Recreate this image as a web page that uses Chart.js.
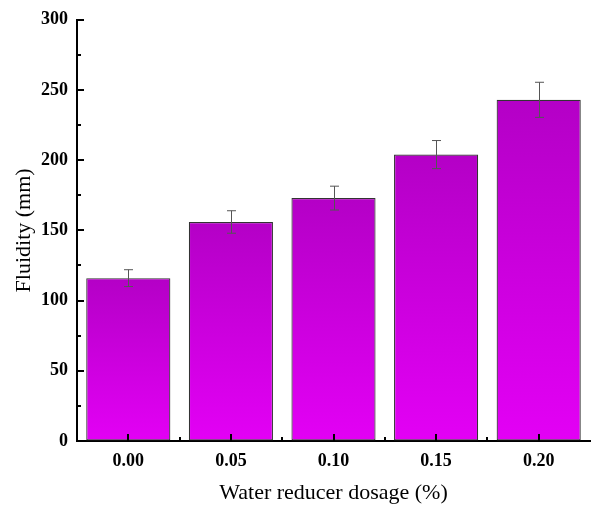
<!DOCTYPE html>
<html>
<head>
<meta charset="utf-8">
<script src="https://cdn.jsdelivr.net/npm/chart.js@4.4.0/dist/chart.umd.min.js"></script>
<style>
  html, body { margin: 0; padding: 0; background: #ffffff; }
  #wrap { width: 592px; height: 506px; position: relative; }
</style>
</head>
<body>
<div id="wrap"><canvas id="c"></canvas></div>
<script>
// Fluidity versus water reducer dosage
const dosageLabels = ['0.00', '0.05', '0.10', '0.15', '0.20'];
const fluidity = [116, 156, 173, 204, 243];
const fluidityError = [6, 8, 8.5, 10, 12.5];
const yTicks = [0, 50, 100, 150, 200, 250, 300];

const FONT = '"Liberation Serif", "Times New Roman", serif';
const TOP_COLOR = '#b400c6';
const BOTTOM_COLOR = '#e300f5';

// Vertical gradient for each bar, from its top down to the baseline
function barGradient(context) {
  const chart = context.chart;
  const { ctx, chartArea, scales } = chart;
  if (!chartArea) return BOTTOM_COLOR;
  const v = context.raw;
  const yTop = scales.y.getPixelForValue(v);
  const yBot = scales.y.getPixelForValue(0);
  const g = ctx.createLinearGradient(0, yTop, 0, yBot);
  g.addColorStop(0, TOP_COLOR);
  g.addColorStop(1, BOTTOM_COLOR);
  return g;
}

// Error bars and inward-pointing tick marks
const decorations = {
  id: 'decorations',
  afterDatasetsDraw(chart) {
    const { ctx, scales } = chart;
    const meta = chart.getDatasetMeta(0);
    ctx.save();
    ctx.strokeStyle = '#555555';
    ctx.lineWidth = 1;
    meta.data.forEach((bar, i) => {
      const x = Math.round(bar.x) + 0.5;
      const yHi = scales.y.getPixelForValue(fluidity[i] + fluidityError[i]);
      const yLo = scales.y.getPixelForValue(fluidity[i] - fluidityError[i]);
      const cap = 4.5;
      ctx.beginPath();
      ctx.moveTo(x, yHi); ctx.lineTo(x, yLo);
      ctx.moveTo(x - cap, yHi); ctx.lineTo(x + cap, yHi);
      ctx.moveTo(x - cap, yLo); ctx.lineTo(x + cap, yLo);
      ctx.stroke();
    });
    ctx.restore();
  },
  afterDraw(chart) {
    const { ctx, scales, chartArea } = chart;
    const y = scales.y, x = scales.x;
    ctx.save();
    ctx.strokeStyle = '#000000';
    ctx.lineWidth = 2;
    // y-axis major and minor ticks
    for (let v = 0; v <= 300; v += 25) {
      const py = Math.round(y.getPixelForValue(v));
      const len = v % 50 === 0 ? 7 : 4;
      ctx.beginPath();
      ctx.moveTo(chartArea.left, py);
      ctx.lineTo(chartArea.left + len, py);
      ctx.stroke();
    }
    // x-axis major ticks at categories, minor ticks between them
    const n = dosageLabels.length;
    for (let i = 0; i < n; i++) {
      const px = Math.round(x.getPixelForValue(i));
      ctx.beginPath();
      ctx.moveTo(px, chartArea.bottom);
      ctx.lineTo(px, chartArea.bottom - 7);
      ctx.stroke();
    }
    for (let i = 0; i < n - 1; i++) {
      const px = Math.round(x.getPixelForValue(i + 0.5));
      ctx.beginPath();
      ctx.moveTo(px, chartArea.bottom);
      ctx.lineTo(px, chartArea.bottom - 4);
      ctx.stroke();
    }
    ctx.restore();
  }
};

new Chart(document.getElementById('c'), {
  type: 'bar',
  data: {
    labels: dosageLabels,
    datasets: [{
      data: fluidity,
      backgroundColor: barGradient,
      borderColor: '#333333',
      borderWidth: 1.2,
      borderSkipped: false,
      barPercentage: 0.82,
      categoryPercentage: 1.0
    }]
  },
  options: {
    responsive: true,
    maintainAspectRatio: false,
    animation: false,
    layout: { padding: { left: 0, right: 2, top: 19, bottom: 0 } },
    plugins: { legend: { display: false }, tooltip: { enabled: false } },
    scales: {
      x: {
        grid: { display: true, drawOnChartArea: false, drawTicks: false },
        border: { display: true, color: '#000000', width: 2 },
        ticks: {
          color: '#000000',
          padding: 10,
          font: { family: FONT, size: 18, weight: 'bold' }
        },
        title: {
          display: true,
          text: 'Water reducer dosage (%)',
          color: '#000000',
          font: { family: FONT, size: 22 },
          padding: { top: 4, bottom: 0 }
        },
        afterFit(scale) { scale.height = 65; }
      },
      y: {
        min: 0,
        max: 300,
        afterBuildTicks(scale) { scale.ticks = yTicks.map(v => ({ value: v })); },
        grid: { display: true, drawOnChartArea: false, drawTicks: false },
        border: { display: true, color: '#000000', width: 2 },
        ticks: {
          color: '#000000',
          padding: 9,
          font: { family: FONT, size: 18, weight: 'bold' }
        },
        title: {
          display: true,
          text: 'Fluidity (mm)',
          color: '#000000',
          font: { family: FONT, size: 22 },
          padding: { top: 11, bottom: 0 }
        },
        afterFit(scale) { scale.width = 77; }
      }
    }
  },
  plugins: [decorations]
});
</script>
</body>
</html>
